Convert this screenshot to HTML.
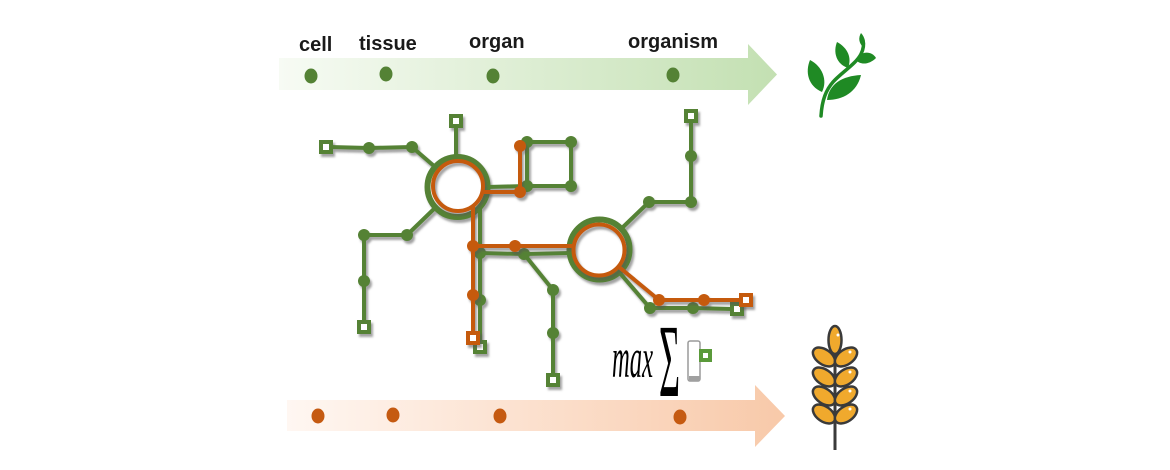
<!DOCTYPE html>
<html><head><meta charset="utf-8"><style>
html,body{margin:0;padding:0;background:#fff;}
svg{display:block;}
</style></head><body>
<svg width="1170" height="470" viewBox="0 0 1170 470" xmlns="http://www.w3.org/2000/svg">
<defs>
<linearGradient id="gT" x1="279" y1="0" x2="777" y2="0" gradientUnits="userSpaceOnUse">
<stop offset="0" stop-color="#f7fbf4"/><stop offset="1" stop-color="#c3e0b2"/></linearGradient>
<linearGradient id="gB" x1="287" y1="0" x2="785" y2="0" gradientUnits="userSpaceOnUse">
<stop offset="0" stop-color="#fff7f2"/><stop offset="1" stop-color="#f8c9a9"/></linearGradient>
<filter id="sh" x="-10%" y="-10%" width="130%" height="130%">
<feDropShadow dx="2" dy="3" stdDeviation="1" flood-color="#555" flood-opacity="0.55"/></filter>
</defs>

<!-- top arrow -->
<polygon points="279,58 748,58 748,44 777,74.5 748,105 748,90 279,90" fill="url(#gT)"/>
<g fill="#548235">
<ellipse cx="311" cy="76" rx="6.5" ry="7.5"/>
<ellipse cx="386" cy="74" rx="6.5" ry="7.5"/>
<ellipse cx="493" cy="76" rx="6.5" ry="7.5"/>
<ellipse cx="673" cy="75" rx="6.5" ry="7.5"/>
</g>
<g font-family="Liberation Sans, sans-serif" font-weight="bold" font-size="20" fill="#1a1a1a">
<text x="299" y="51">cell</text>
<text x="359" y="50">tissue</text>
<text x="469" y="48">organ</text>
<text x="628" y="48">organism</text>
</g>

<!-- bottom arrow -->
<polygon points="287,400 755,400 755,385 785,416 755,447 755,431 287,431" fill="url(#gB)"/>
<g fill="#c55a11">
<ellipse cx="318" cy="416" rx="6.5" ry="7.5"/>
<ellipse cx="393" cy="415" rx="6.5" ry="7.5"/>
<ellipse cx="500" cy="416" rx="6.5" ry="7.5"/>
<ellipse cx="680" cy="417" rx="6.5" ry="7.5"/>
</g>

<!-- green network -->
<g filter="url(#sh)">
<g fill="none" stroke="#548235" stroke-width="4" stroke-linejoin="round">
<polyline points="330,147 369,148 412,147 434,166"/>
<polyline points="456,125 456,156"/>
<polyline points="436,207 407,235 364,235 364,281 364,323"/>
<polyline points="487,187 527,186"/>
<polygon points="527,142 571,142 571,186 527,186"/>
<polyline points="480,205 480,253 480,300 480,343"/>
<polyline points="480,253 524,254 570,253"/>
<polyline points="524,254 553,290 553,333 553,376"/>
<polyline points="622,228 649,202 691,202 691,156 691,120"/>
<polyline points="619,272 650,308 693,308 733,309"/>
<circle cx="457.5" cy="187" r="30" stroke-width="6" fill="#fff"/>
<circle cx="599.5" cy="249.5" r="30" stroke-width="6" fill="#fff"/>
</g>
<g fill="#548235">
<circle cx="369" cy="148" r="6"/><circle cx="412" cy="147" r="6"/>
<circle cx="407" cy="235" r="6"/><circle cx="364" cy="235" r="6"/><circle cx="364" cy="281" r="6"/>
<circle cx="527" cy="142" r="6"/><circle cx="571" cy="142" r="6"/><circle cx="571" cy="186" r="6"/><circle cx="527" cy="186" r="6"/>
<circle cx="480" cy="253" r="6"/><circle cx="480" cy="300" r="6"/>
<circle cx="524" cy="254" r="6"/><circle cx="553" cy="290" r="6"/><circle cx="553" cy="333" r="6"/>
<circle cx="649" cy="202" r="6"/><circle cx="691" cy="202" r="6"/><circle cx="691" cy="156" r="6"/>
<circle cx="650" cy="308" r="6"/><circle cx="693" cy="308" r="6"/>
</g>
<g fill="#fff" stroke="#548235" stroke-width="4">
<rect x="321" y="142" width="10" height="10"/>
<rect x="451" y="116" width="10" height="10"/>
<rect x="359" y="322" width="10" height="10"/>
<rect x="475" y="342" width="10" height="10"/>
<rect x="548" y="375" width="10" height="10"/>
<rect x="686" y="111" width="10" height="10"/>
<rect x="732" y="304" width="10" height="10"/>
</g>
</g>

<!-- orange network -->
<g filter="url(#sh)">
<g fill="none" stroke="#c55a11" stroke-width="4" stroke-linejoin="round">
<circle cx="458" cy="186" r="25"/>
<circle cx="599" cy="250" r="25.5"/>
<polyline points="482,192 520,192 520,146"/>
<polyline points="473,206 473,246 473,295 473,334"/>
<polyline points="473,246 515,246 573,246"/>
<polyline points="619,267 659,300 704,300 741,300"/>
</g>
<g fill="#c55a11">
<circle cx="520" cy="192" r="6"/><circle cx="520" cy="146" r="6"/>
<circle cx="473" cy="246" r="6"/><circle cx="473" cy="295" r="6"/>
<circle cx="515" cy="246" r="6"/>
<circle cx="659" cy="300" r="6"/><circle cx="704" cy="300" r="6"/>
</g>
<g fill="#fff" stroke="#c55a11" stroke-width="4">
<rect x="468" y="333" width="10" height="10"/>
<rect x="741" y="295" width="10" height="10"/>
</g>
</g>

<!-- max sum -->
<text x="612" y="377" font-family="Liberation Serif, serif" font-style="italic" font-size="56" textLength="41" lengthAdjust="spacingAndGlyphs" fill="#000">max</text>
<text x="659" y="396" font-family="Liberation Serif, serif" font-size="104" textLength="21" lengthAdjust="spacingAndGlyphs" fill="#000">Σ</text>
<rect x="688" y="341" width="12" height="40" rx="2" fill="#fff" stroke="#9a9a9a" stroke-width="1.5"/>
<rect x="689" y="376" width="11" height="5" fill="#a0a0a0"/>
<rect x="699" y="349" width="13" height="13" fill="#5a9a3a"/>
<rect x="703" y="353" width="5" height="5" fill="#fff"/>

<!-- plant icon -->
<g fill="#1f8a24">
<path d="M821,116 C822,100 826,90 833,82 C842,72 856,64 861,54 C864,48 864,44 863,40" fill="none" stroke="#1f8a24" stroke-width="3.5" stroke-linecap="round"/>
<path d="M822,92 C808,86 805,72 810,60 C822,66 828,80 822,92 Z"/>
<path d="M848,68 C836,64 833,52 837,42 C848,48 852,58 848,68 Z"/>
<path d="M856,60 C861,50 872,51 876,58 C869,65 860,65 856,60 Z"/>
<path d="M863,47 C859,43 858,38 861,33 C865,37 866,43 863,47 Z"/>
<path d="M827,100 C829,84 842,76 861,75 C857,92 843,100 827,100 Z"/>
</g>

<!-- wheat icon -->
<g stroke="#3a3a3a" stroke-width="2.5" fill="#f0a92d">
<line x1="835" y1="345" x2="835" y2="450" stroke-width="3"/>
<ellipse cx="835" cy="340" rx="6.5" ry="14"/>
<ellipse cx="824" cy="357" rx="12.5" ry="7.5" transform="rotate(35 824 357)"/>
<ellipse cx="846" cy="357" rx="12.5" ry="7.5" transform="rotate(-35 846 357)"/>
<ellipse cx="824" cy="377" rx="12.5" ry="7.5" transform="rotate(35 824 377)"/>
<ellipse cx="846" cy="377" rx="12.5" ry="7.5" transform="rotate(-35 846 377)"/>
<ellipse cx="824" cy="396" rx="12.5" ry="7.5" transform="rotate(35 824 396)"/>
<ellipse cx="846" cy="396" rx="12.5" ry="7.5" transform="rotate(-35 846 396)"/>
<ellipse cx="824" cy="414" rx="12.5" ry="7.5" transform="rotate(35 824 414)"/>
<ellipse cx="846" cy="414" rx="12.5" ry="7.5" transform="rotate(-35 846 414)"/>
</g>
<g fill="#fff">
<circle cx="838" cy="335" r="1.5"/><circle cx="850" cy="352" r="1.5"/><circle cx="850" cy="372" r="1.5"/><circle cx="850" cy="391" r="1.5"/><circle cx="850" cy="409" r="1.5"/>
</g>
</svg>
</body></html>
